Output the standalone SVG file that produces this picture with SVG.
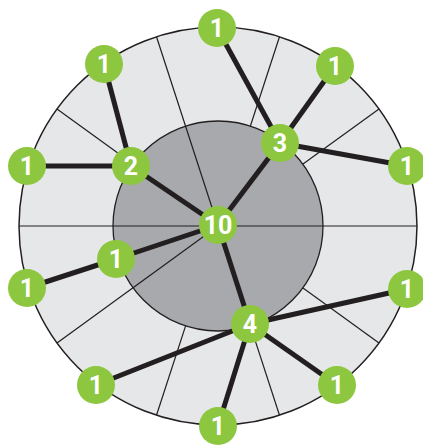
<svg xmlns="http://www.w3.org/2000/svg" width="423" height="445" viewBox="0 0 423 445">
<style>
.div{stroke:#231f20;stroke-width:1.2;fill:none}
.edge{stroke:#231f20;stroke-width:5;stroke-linecap:butt}
.node circle{fill:#8dc63f}
.node text{fill:#ffffff;font-family:Roboto,"Liberation Sans",sans-serif;font-weight:bold;font-size:25px;text-anchor:middle}
</style>
<rect width="423" height="445" fill="#ffffff"/>
<g id="background">
<circle cx="218" cy="226" r="199" fill="#e6e7e8"/>
<circle cx="218" cy="226" r="105" fill="#a7a9ac" stroke="#231f20" stroke-width="1.3"/>
<line class="div" x1="19" y1="226" x2="417" y2="226"/>
<line class="div" x1="379" y1="343" x2="303" y2="288"/>
<line class="div" x1="279.5" y1="415.3" x2="250.4" y2="325.9"/>
<line class="div" x1="156.5" y1="415.3" x2="185.6" y2="325.9"/>
<line class="div" x1="57" y1="343" x2="218" y2="226"/>
<line class="div" x1="57" y1="109" x2="133" y2="164"/>
<line class="div" x1="156.5" y1="36.7" x2="218" y2="226"/>
<line class="div" x1="279.5" y1="36.7" x2="250.4" y2="126"/>
<line class="div" x1="379" y1="109" x2="303" y2="164"/>
<circle cx="218" cy="226" r="199" fill="none" stroke="#231f20" stroke-width="1.5"/>
</g>
<g id="connectors">
<line class="edge" x1="104" y1="64" x2="131" y2="166"/>
<line class="edge" x1="27" y1="166" x2="131" y2="166"/>
<line class="edge" x1="131" y1="166" x2="218" y2="225"/>
<line class="edge" x1="217" y1="28" x2="280" y2="143"/>
<line class="edge" x1="335" y1="66" x2="280" y2="143"/>
<line class="edge" x1="407" y1="166" x2="280" y2="143"/>
<line class="edge" x1="280" y1="143" x2="218" y2="225"/>
<line class="edge" x1="218" y1="225" x2="116" y2="259"/>
<line class="edge" x1="116" y1="259" x2="27" y2="288"/>
<line class="edge" x1="218" y1="225" x2="250" y2="324"/>
<line class="edge" x1="250" y1="324" x2="407" y2="289"/>
<line class="edge" x1="250" y1="324" x2="96" y2="385"/>
<line class="edge" x1="250" y1="324" x2="218" y2="426"/>
<line class="edge" x1="250" y1="324" x2="337" y2="385"/>
</g>
<g id="n10" class="node"><circle cx="218" cy="225" r="19"/><text x="218" y="234">10</text></g>
<g id="n2" class="node"><circle cx="131" cy="166" r="19"/><text x="131" y="175">2</text></g>
<g id="n3" class="node"><circle cx="280" cy="143" r="19"/><text x="280" y="152">3</text></g>
<g id="n4" class="node"><circle cx="250" cy="324" r="19"/><text x="250" y="333">4</text></g>
<g id="n1a" class="node"><circle cx="217" cy="28" r="19"/><text x="217" y="37">1</text></g>
<g id="n1b" class="node"><circle cx="104" cy="64" r="19"/><text x="104" y="73">1</text></g>
<g id="n1c" class="node"><circle cx="335" cy="66" r="19"/><text x="335" y="75">1</text></g>
<g id="n1d" class="node"><circle cx="27" cy="166" r="19"/><text x="27" y="175">1</text></g>
<g id="n1e" class="node"><circle cx="407" cy="166" r="19"/><text x="407" y="175">1</text></g>
<g id="n1f" class="node"><circle cx="116" cy="259" r="19"/><text x="116" y="268">1</text></g>
<g id="n1g" class="node"><circle cx="27" cy="288" r="19"/><text x="27" y="297">1</text></g>
<g id="n1h" class="node"><circle cx="407" cy="289" r="19"/><text x="407" y="298">1</text></g>
<g id="n1i" class="node"><circle cx="96" cy="385" r="19"/><text x="96" y="394">1</text></g>
<g id="n1j" class="node"><circle cx="218" cy="426" r="19"/><text x="218" y="435">1</text></g>
<g id="n1k" class="node"><circle cx="337" cy="385" r="19"/><text x="337" y="394">1</text></g>
</svg>
